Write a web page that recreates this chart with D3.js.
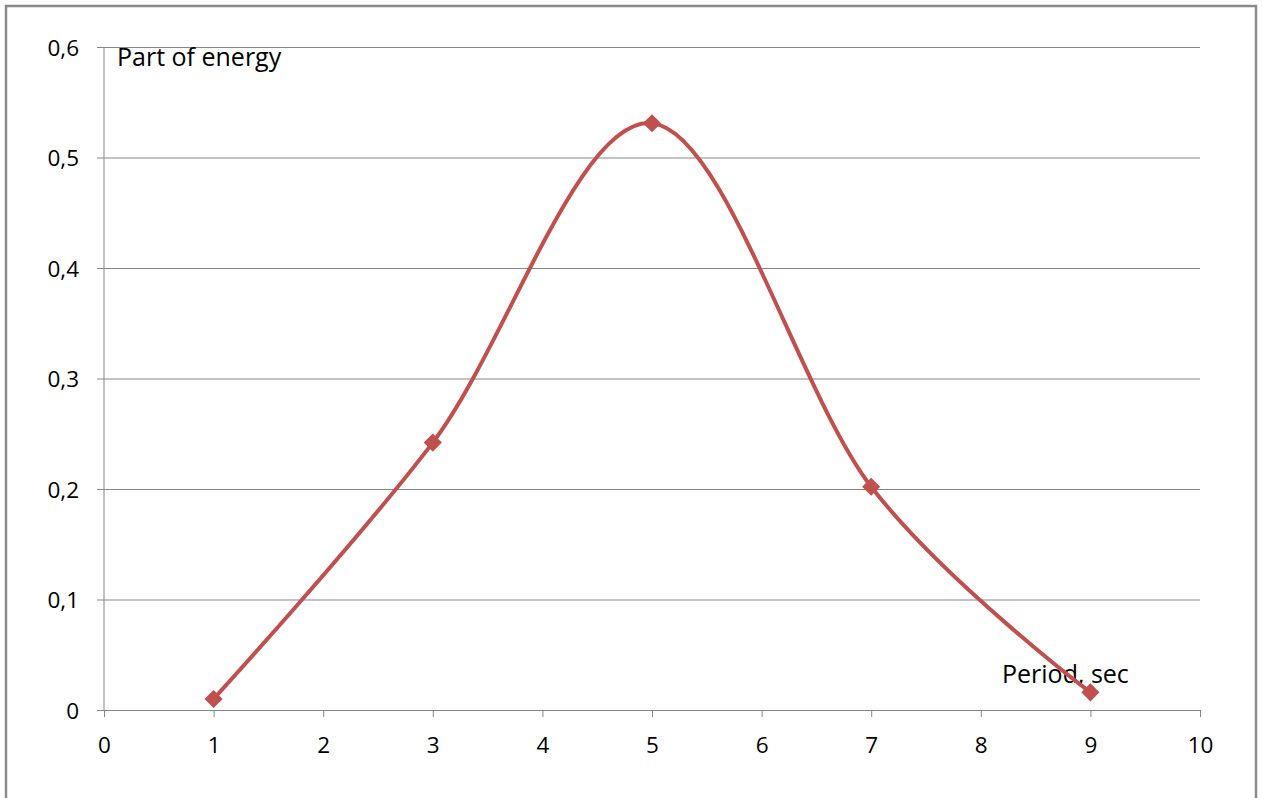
<!DOCTYPE html>
<html>
<head>
<meta charset="utf-8">
<script src="https://cdn.jsdelivr.net/npm/d3@7/dist/d3.min.js"></script>
<style>
  body { margin: 0; background: #fff; }
  svg text { font-family: "Open Sans", Lato, sans-serif; fill: #000; }
</style>
</head>
<body>
<div id="chart"></div>
<script>
// values
var periods = [1, 3, 5, 7, 9];
var energy = [0.01, 0.242, 0.531, 0.202, 0.016];
var xTicks = [0, 1, 2, 3, 4, 5, 6, 7, 8, 9, 10];
var yTicks = [0, 0.1, 0.2, 0.3, 0.4, 0.5, 0.6];
var yTitle = "Part of energy";
var xTitle = "Period, sec";

var width = 1263, height = 798;
var svg = d3.select("#chart").append("svg")
    .attr("width", width)
    .attr("height", height);

// outer frame
svg.append("rect")
    .attr("x", 6).attr("y", 6)
    .attr("width", 1250).attr("height", 800)
    .attr("fill", "none")
    .attr("stroke", "#8a8a8a")
    .attr("stroke-width", 2.5);

var x = d3.scaleLinear().domain([0, 10]).range([104, 1200]);
var y = d3.scaleLinear().domain([0, 0.6]).range([710, 47]);

var fmt = function(d) { return d === 0 ? "0" : d3.format(".1f")(d).replace(".", ","); };

// gridlines + y labels
var yAxis = svg.append("g")
    .attr("transform", "translate(" + x(0) + ",0)")
    .call(d3.axisLeft(y).tickValues(yTicks).tickFormat(fmt)
        .tickSize(-(x(10) - x(0))).tickPadding(25));
yAxis.select(".domain").remove();
yAxis.selectAll(".tick line")
    .attr("x1", -7)
    .attr("stroke", "#868686");
yAxis.selectAll(".tick text").style("font-size", "22.5px").attr("dy", "0.36em");

// vertical axis line
svg.append("line")
    .attr("x1", x(0)).attr("x2", x(0))
    .attr("y1", y(0.6)).attr("y2", y(0))
    .attr("stroke", "#868686");

// x axis
var xAxis = svg.append("g")
    .attr("transform", "translate(0," + y(0) + ")")
    .call(d3.axisBottom(x).tickValues(xTicks).tickFormat(d3.format("d"))
        .tickSizeOuter(0).tickSize(7).tickPadding(20));
xAxis.select(".domain").attr("stroke", "#868686");
xAxis.selectAll(".tick line").attr("stroke", "#868686");
xAxis.selectAll(".tick text").style("font-size", "22.5px");

// axis titles
svg.append("text")
    .attr("x", 117).attr("y", 66)
    .style("font-size", "25px")
    .text(yTitle);
svg.append("text")
    .attr("x", 1002).attr("y", 683)
    .style("font-size", "25px")
    .text(xTitle);

// smoothed line
var pts = periods.map(function(p, i) { return [p, energy[i]]; });
var line = d3.line()
    .x(function(d) { return x(d[0]); })
    .y(function(d) { return y(d[1]); })
    .curve(d3.curveCardinal.tension(0));

svg.append("path")
    .datum(pts)
    .attr("d", line)
    .attr("fill", "none")
    .attr("stroke", "#c0504d")
    .attr("stroke-width", 4);

// diamond markers
svg.selectAll(".marker")
    .data(pts)
    .enter()
    .append("path")
    .attr("class", "marker")
    .attr("d", d3.symbol().type(d3.symbolDiamond2).size(210))
    .attr("transform", function(d) { return "translate(" + x(d[0]) + "," + y(d[1]) + ")"; })
    .attr("fill", "#c0504d");
</script>
</body>
</html>
